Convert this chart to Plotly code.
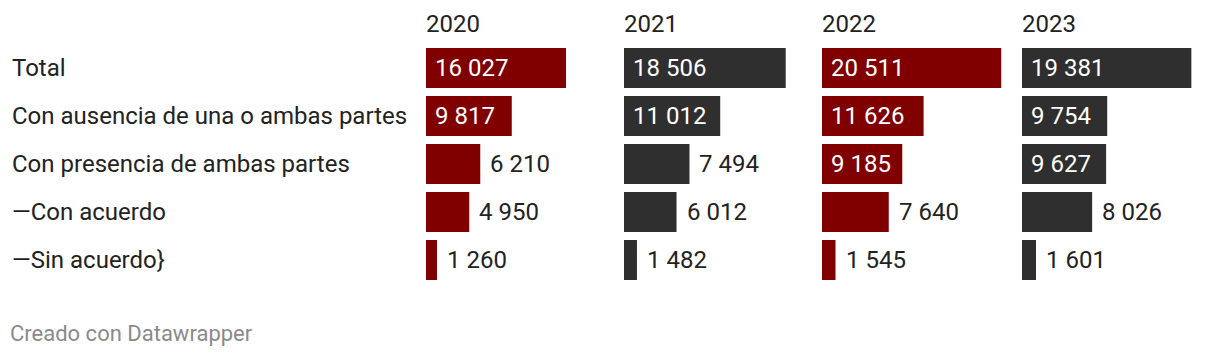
import plotly.graph_objects as go

# ---- data ----
categories = [
    "Total",
    "Con ausencia de una o ambas partes",
    "Con presencia de ambas partes",
    "\u2014Con acuerdo",
    "\u2014Sin acuerdo}",
]
years = ["2020", "2021", "2022", "2023"]
values_2020 = [16027, 9817, 6210, 4950, 1260]
values_2021 = [18506, 11012, 7494, 6012, 1482]
values_2022 = [20511, 11626, 9185, 7640, 1545]
values_2023 = [19381, 9754, 9627, 8026, 1601]
series = [values_2020, values_2021, values_2022, values_2023]
colors = ["#800000", "#2f2f2f", "#800000", "#2f2f2f"]
footer = "Creado con Datawrapper"

# ---- layout constants (pixels, page coordinates) ----
OFF = 8  # default page body margin
W, H = 1220 - 2 * OFF, 356 - 2 * OFF
FONT = "Roboto"
FS = 24
TEXT_COLOR = "#222222"
panel_left = [426, 624, 822, 1022]
panel_width = 180
x_max = 20600
row_center0 = 68
row_pitch = 48
bar_px = 40
label_pad = 9


def px_x(p):
    return (p - OFF) / W


def px_y(p):
    return 1 - (p - OFF) / H


def fmt(v):
    return f"{v:,}".replace(",", " ")


def text_width(s):
    w = 0.0
    for ch in s:
        w += 0.2476 if ch == " " else 0.5615
    return w * FS


fig = go.Figure()
annotations = []

for k, (yr, vals, col) in enumerate(zip(years, series, colors)):
    ax = "x" if k == 0 else f"x{k + 1}"
    fig.add_trace(
        go.Bar(
            x=vals,
            y=categories,
            orientation="h",
            marker=dict(color=col, line=dict(width=0)),
            width=bar_px / row_pitch,
            xaxis=ax,
            yaxis="y",
            hoverinfo="skip",
            showlegend=False,
        )
    )
    axis_key = "xaxis" if k == 0 else f"xaxis{k + 1}"
    fig.update_layout(
        {
            axis_key: dict(
                domain=[px_x(panel_left[k]), px_x(panel_left[k] + panel_width)],
                range=[0, x_max],
                visible=False,
                fixedrange=True,
                anchor="y",
            )
        }
    )
    # year header
    annotations.append(
        dict(
            text=yr,
            xref="paper",
            yref="paper",
            x=px_x(panel_left[k] - 2),
            y=px_y(24),
            xanchor="left",
            yanchor="middle",
            showarrow=False,
            font=dict(family=FONT, size=FS, color=TEXT_COLOR),
        )
    )
    # value labels
    bar_scale = panel_width / x_max
    for cat, v in zip(categories, vals):
        s = fmt(v)
        inside = text_width(s) + 2 * label_pad <= v * bar_scale
        annotations.append(
            dict(
                text=s,
                xref=ax,
                yref="y",
                x=0 if inside else v,
                y=cat,
                xanchor="left",
                yanchor="middle",
                xshift=label_pad - 2 if inside else label_pad - 1,
                showarrow=False,
                font=dict(family=FONT, size=FS, color="#ffffff" if inside else TEXT_COLOR),
            )
        )

# row labels
for cat in categories:
    annotations.append(
        dict(
            text=cat,
            xref="paper",
            yref="y",
            x=px_x(10),
            y=cat,
            xanchor="left",
            yanchor="middle",
            showarrow=False,
            font=dict(family=FONT, size=FS, color=TEXT_COLOR),
        )
    )

# footer
annotations.append(
    dict(
        text=footer,
        xref="paper",
        yref="paper",
        x=px_x(8),
        y=px_y(333),
        xanchor="left",
        yanchor="middle",
        showarrow=False,
        font=dict(family=FONT, size=22, color="#8a8a8a"),
    )
)

fig.update_layout(
    width=W,
    height=H,
    margin=dict(l=0, r=0, t=0, b=0),
    paper_bgcolor="#ffffff",
    plot_bgcolor="#ffffff",
    barmode="overlay",
    yaxis=dict(
        domain=[0, 1],
        type="category",
        categoryorder="array",
        categoryarray=categories,
        range=[(H + OFF - row_center0) / row_pitch, (OFF - row_center0) / row_pitch],
        autorange=False,
        visible=False,
        fixedrange=True,
    ),
    annotations=annotations,
)

fig.write_html("out.html", config={"displayModeBar": False})
